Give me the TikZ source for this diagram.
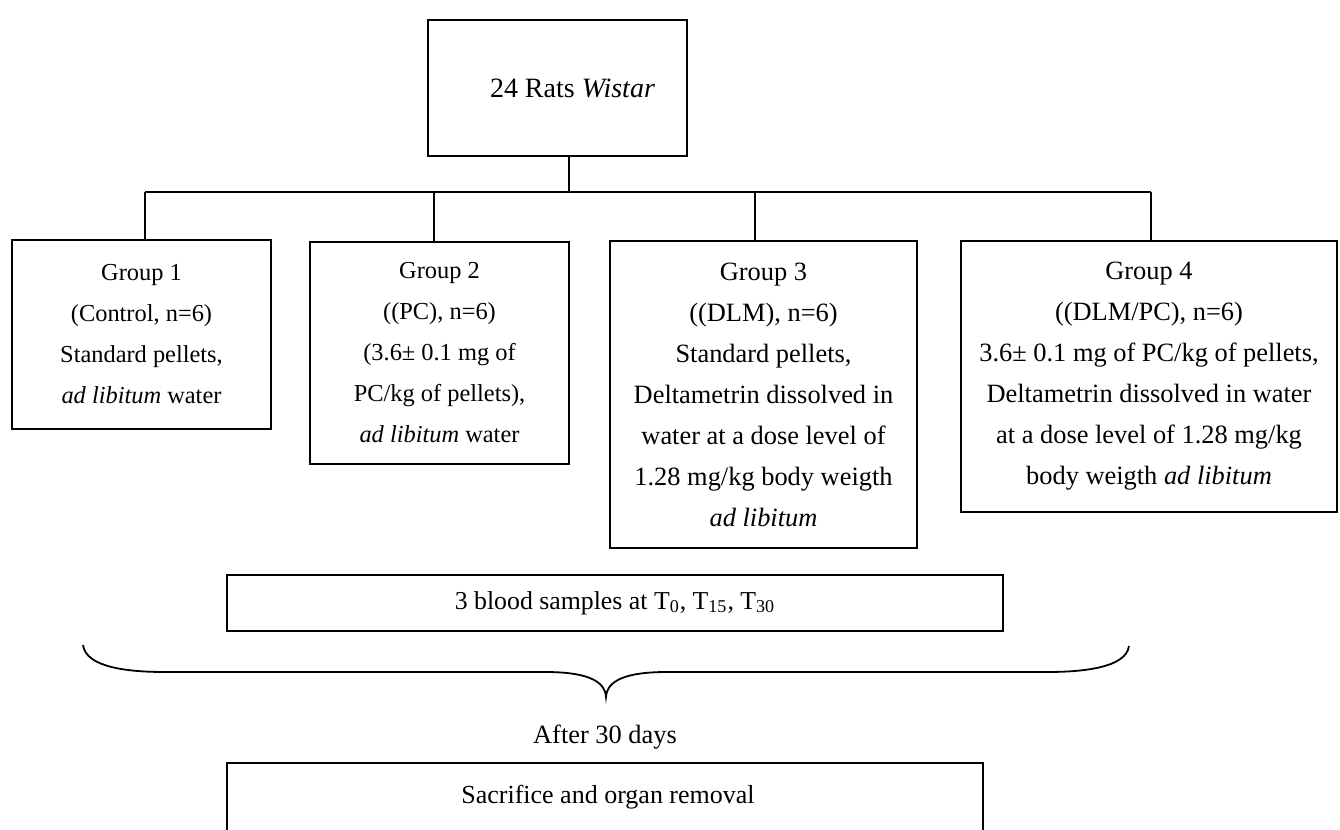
\documentclass[tikz,border=0pt]{standalone}
\usepackage{fontspec}
\setmainfont{Liberation Serif}
\usepackage{tikz}
\usetikzlibrary{positioning, calc}
\newcommand{\grpfont}{\fontsize{12.2}{20.5}\selectfont}
\newcommand{\widefont}{\fontsize{13.2}{20.5}\selectfont}
\newcommand{\ratsfont}{\fontsize{14}{17}\selectfont}
\tikzstyle{link} = [line width=0.8pt]

\begin{document}
\begin{tikzpicture}[
  x=0.5pt, y=-0.5pt,
  box/.style={rectangle, draw=black, line width=0.8pt, inner sep=0pt,
              text centered, align=center, font=\grpfont},
  grp/.style={box, minimum width=129.5pt},
  wide/.style={box, font=\widefont},
  plain/.style={inner sep=0pt, font=\widefont}
]
  \useasboundingbox (0,0) rectangle (1340,830);
  \clip (0,0) rectangle (1340,830);

  \node[box, font=\ratsfont, minimum width=129.5pt, minimum height=68pt] (rats) at (557.5,88)
    {\hspace*{15pt}24 Rats \textit{Wistar}};

  \node[grp, minimum height=94.5pt] (g1) at (141.5,334.5)
    {Group 1\\(Control, n=6)\\Standard pellets,\\\textit{ad libitum} water};
  \node[grp, minimum height=111pt] (g2) at (439.5,353)
    {Group 2\\((PC), n=6)\\(3.6± 0.1 mg of\\PC/kg of pellets),\\\textit{ad libitum} water};
  \node[wide, minimum width=153.5pt, minimum height=153.5pt] (g3) at (763.5,394.5)
    {Group 3\\((DLM), n=6)\\Standard pellets,\\Deltametrin dissolved in\\water at a dose level of\\1.28 mg/kg body weigth\\\textit{ad libitum}};
  \node[wide, minimum width=188pt, minimum height=135.5pt] (g4) at (1149,376.5)
    {Group 4\\((DLM/PC), n=6)\\3.6± 0.1 mg of PC/kg of pellets,\\Deltametrin dissolved in water\\at a dose level of 1.28 mg/kg\\body weigth \textit{ad libitum}};

  \node[box, font=\fontsize{12.9}{15}\selectfont, line width=1pt, minimum width=388pt, minimum height=28pt] (blood) at (615,603)
    {3 blood samples at T\textsubscript{0}, T\textsubscript{15}, T\textsubscript{30}};
  \node[plain] (after) at (605,737) {After 30 days};
  \node[box, minimum width=378pt, minimum height=38.5pt] (sacr) at (605,801.5) {};
  \node[plain, font=\fontsize{13}{15}\selectfont] (sacrtxt) at (608,797) {Sacrifice and organ removal};

  \coordinate (hub) at (569,192);
  \coordinate (d1) at (145,192);
  \coordinate (d2) at (434,192);
  \coordinate (d3) at (755,192);
  \coordinate (d4) at (1151,192);
  \draw[link] (rats.south -| hub) -- (hub);
  \draw[link] (d1) -- (d4);
  \foreach \i in {1,...,4}
    \draw[link] (d\i) -- (d\i |- g\i.north);

  \draw[line width=0.9pt] (83,645) .. controls (86,668) and (130,672) .. (165,672) -- (545,672)
    .. controls (585,672) and (605,680) .. (606,697)
    .. controls (607,680) and (627,672) .. (667,672) -- (1047,672)
    .. controls (1082,672) and (1126,668) .. (1129,646);
\end{tikzpicture}
\end{document}
